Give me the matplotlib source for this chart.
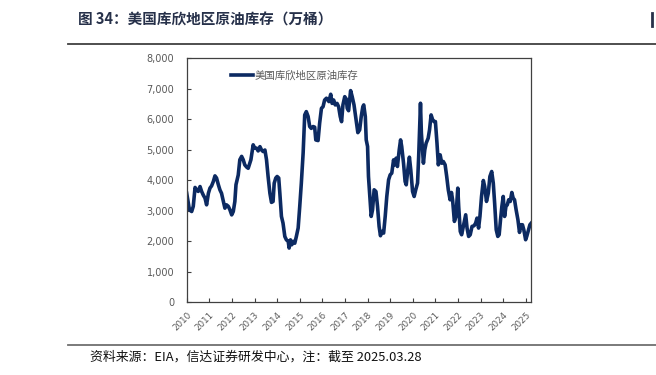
import matplotlib
matplotlib.use('Agg')
import matplotlib.pyplot as plt
from matplotlib.lines import Line2D
from matplotlib.ticker import FuncFormatter

plt.rcParams['font.family'] = ['Noto Sans CJK SC', 'DejaVu Sans']

# 库欣原油库存（万桶），按年份小数读图
years = [
    2010.00, 2010.12, 2010.22, 2010.29, 2010.37, 2010.44, 2010.51, 2010.59, 2010.66, 2010.74,
    2010.81, 2010.88, 2010.96, 2011.03, 2011.10, 2011.18, 2011.25, 2011.32, 2011.40, 2011.47,
    2011.54, 2011.62, 2011.69, 2011.76, 2011.84, 2011.91, 2011.99, 2012.06, 2012.13, 2012.18,
    2012.28, 2012.35, 2012.43, 2012.50, 2012.57, 2012.65, 2012.72, 2012.79, 2012.84, 2012.94,
    2013.01, 2013.09, 2013.16, 2013.24, 2013.31, 2013.38, 2013.46, 2013.53, 2013.60, 2013.68,
    2013.75, 2013.82, 2013.87, 2013.94, 2014.00, 2014.07, 2014.12, 2014.19, 2014.26, 2014.34,
    2014.41, 2014.49, 2014.53, 2014.59, 2014.65, 2014.71, 2014.78, 2014.85, 2014.93, 2015.00,
    2015.07, 2015.15, 2015.22, 2015.29, 2015.37, 2015.44, 2015.51, 2015.59, 2015.66, 2015.71,
    2015.81, 2015.88, 2015.96, 2016.03, 2016.10, 2016.18, 2016.29, 2016.37, 2016.43, 2016.50,
    2016.57, 2016.65, 2016.72, 2016.79, 2016.85, 2016.91, 2016.99, 2017.06, 2017.10, 2017.16,
    2017.25, 2017.32, 2017.40, 2017.50, 2017.57, 2017.65, 2017.72, 2017.79, 2017.83, 2017.90,
    2017.94, 2018.00, 2018.04, 2018.12, 2018.16, 2018.22, 2018.29, 2018.37, 2018.44, 2018.51,
    2018.57, 2018.63, 2018.71, 2018.78, 2018.85, 2018.93, 2019.00, 2019.07, 2019.15, 2019.19,
    2019.26, 2019.32, 2019.40, 2019.46, 2019.51, 2019.59, 2019.66, 2019.71, 2019.78, 2019.85,
    2019.91, 2019.99, 2020.06, 2020.13, 2020.21, 2020.26, 2020.34, 2020.38, 2020.47, 2020.53,
    2020.59, 2020.68, 2020.74, 2020.81, 2020.88, 2020.94, 2021.00, 2021.07, 2021.13, 2021.21,
    2021.28, 2021.35, 2021.43, 2021.50, 2021.57, 2021.65, 2021.71, 2021.76, 2021.84, 2021.91,
    2021.99, 2022.03, 2022.10, 2022.16, 2022.25, 2022.34, 2022.40, 2022.47, 2022.54, 2022.62,
    2022.71, 2022.78, 2022.84, 2022.91, 2022.97, 2023.04, 2023.12, 2023.18, 2023.26, 2023.34,
    2023.41, 2023.49, 2023.56, 2023.62, 2023.69, 2023.76, 2023.82, 2023.88, 2023.94, 2024.00,
    2024.06, 2024.12, 2024.18, 2024.24, 2024.31, 2024.38, 2024.44, 2024.50, 2024.57, 2024.65,
    2024.72, 2024.78, 2024.85, 2024.91, 2024.99, 2025.04, 2025.10, 2025.18, 2025.24,
]
stocks = [
    3570, 3030, 2970, 3140, 3760, 3680, 3630, 3790, 3630, 3500,
    3410, 3190, 3570, 3740, 3810, 3960, 4140, 4070, 3850, 3680,
    3570, 3300, 3080, 3190, 3140, 3030, 2860, 2970, 3300, 3850,
    4170, 4670, 4780, 4670, 4500, 4430, 4390, 4560, 4670, 5160,
    5050, 5050, 4960, 5100, 4990, 4940, 4990, 4670, 4120, 3570,
    3270, 3300, 3900, 4070, 4120, 4070, 3570, 2810, 2590, 2150,
    2040, 1990, 1770, 2040, 1880, 1990, 1930, 2150, 2430, 3140,
    3900, 4890, 6140, 6250, 6090, 5760, 5700, 5760, 5740, 5320,
    5300, 5870, 6360, 6410, 6630, 6690, 6580, 6820, 6520, 6630,
    6470, 6520, 6410, 6090, 5920, 6470, 6740, 6660, 6360, 6280,
    6940, 6740, 6470, 5920, 5560, 5650, 6090, 6410, 6470, 6087,
    5322, 5104, 4120, 3246, 2809, 3027, 3683, 3628, 3137, 2481,
    2175, 2317, 2262, 2809, 3464, 4011, 4175, 4230, 4667, 4503,
    4721, 4448, 4995, 5322, 5104, 4557, 3956, 3847, 4339, 4754,
    4339, 3628, 3464, 3683, 3902, 4776, 6525, 5541, 4557, 4995,
    5213, 5377, 5650, 6142, 5978, 5923, 5923, 5213, 4503, 4831,
    4557, 4612, 4503, 4120, 3683, 3355, 3596, 3355, 2645, 2809,
    3738, 3137, 2317, 2208, 2536, 2863, 2426, 2153, 2208, 2481,
    2503, 2590, 2754, 2426, 2809, 3464, 3989, 3792, 3301, 3574,
    4120, 4284, 3902, 3246, 2372, 2153, 2208, 2699, 3137, 3464,
    2809, 3137, 3191, 3355, 3301, 3596, 3410, 3355, 3027, 2699,
    2284, 2536, 2536, 2372, 2044, 2153, 2317, 2536, 2590,
]
year_ticks = list(range(2010, 2026))
y_ticks = list(range(0, 8001, 1000))

title = '图 34：美国库欣地区原油库存（万桶）'
series_name = '美国库欣地区原油库存'
source = '资料来源：EIA，信达证券研发中心，注：截至 2025.03.28'

fig = plt.figure(figsize=(6.56, 3.75), dpi=100)
ax = fig.add_axes([0.2846, 0.1947, 0.5256, 0.6498])

ax.plot(years, stocks, color='#0c2a62', lw=2.6, label=series_name,
        solid_joinstyle='round')

ax.set_xlim(2010, 2025.25)
ax.set_ylim(0, 8000)
ax.set_xticks(year_ticks)
ax.set_xticklabels([str(y) for y in year_ticks], rotation=45, ha='right',
                   rotation_mode='anchor', fontsize=6.3, color='#595959',
                   family='DejaVu Sans')
ax.set_yticks(y_ticks)
ax.yaxis.set_major_formatter(FuncFormatter(lambda v, p: f'{int(v):,}'))
for lab in ax.get_yticklabels():
    lab.set_family('DejaVu Sans')
ax.tick_params(axis='y', direction='in', length=3, labelsize=7,
               labelcolor='#595959', pad=9, color='#404040')
ax.tick_params(axis='x', direction='in', length=3, pad=6, color='#404040')
for s in ax.spines.values():
    s.set_color('#404040')
    s.set_linewidth(0.9)

leg = ax.legend(loc='upper left', bbox_to_anchor=(0.1, 0.99), frameon=False,
                fontsize=7.5, handlelength=2.2, handletextpad=0.1)
for t in leg.get_texts():
    t.set_color('#595959')

fig.text(0.119, 0.947, title, fontsize=10.5, fontweight='bold',
         color='#27314a', va='center', ha='left')
fig.add_artist(Line2D([0.104, 1.0], [0.884, 0.884], color='#404040', lw=1.3))
fig.add_artist(Line2D([0.104, 1.0], [0.081, 0.081], color='#707070', lw=1.3))
fig.add_artist(Line2D([0.994, 0.994], [0.93, 0.965], color='#27314a', lw=2))
fig.text(0.137, 0.047, source, fontsize=9.3, style='italic',
         color='#111111', va='center', ha='left')

fig.savefig('out.png', dpi=100)
